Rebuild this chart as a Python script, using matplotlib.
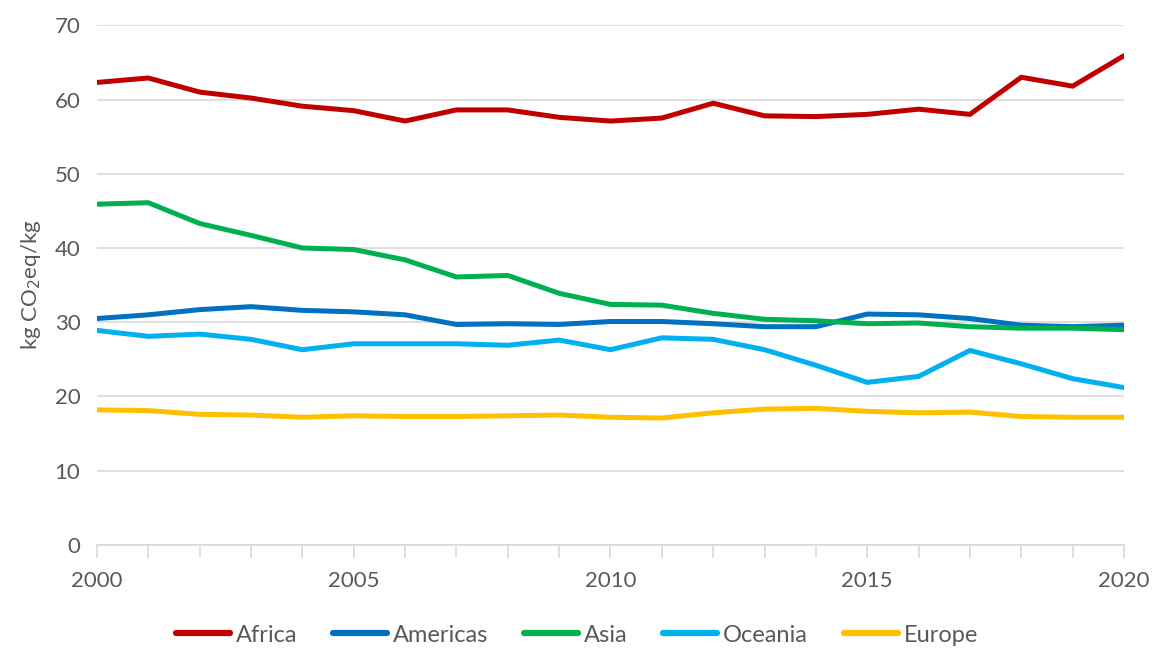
import matplotlib
matplotlib.use("Agg")
import matplotlib.pyplot as plt
from matplotlib.ticker import MultipleLocator

years = list(range(2000, 2021))
africa = [62.3, 62.9, 61.0, 60.2, 59.1, 58.5, 57.1, 58.6, 58.6, 57.6, 57.1,
          57.5, 59.5, 57.8, 57.7, 58.0, 58.7, 58.0, 63.0, 61.8, 65.9]
americas = [30.5, 31.0, 31.7, 32.1, 31.6, 31.4, 31.0, 29.7, 29.8, 29.7, 30.1,
            30.1, 29.8, 29.4, 29.4, 31.1, 31.0, 30.5, 29.6, 29.4, 29.6]
asia = [45.9, 46.1, 43.3, 41.7, 40.0, 39.8, 38.4, 36.1, 36.3, 33.9, 32.4,
        32.3, 31.2, 30.4, 30.2, 29.8, 29.9, 29.4, 29.2, 29.2, 29.0]
oceania = [28.9, 28.1, 28.4, 27.7, 26.3, 27.1, 27.1, 27.1, 26.9, 27.6, 26.3,
           27.9, 27.7, 26.3, 24.2, 21.9, 22.7, 26.2, 24.4, 22.4, 21.2]
europe = [18.2, 18.1, 17.6, 17.5, 17.2, 17.4, 17.3, 17.3, 17.4, 17.5, 17.2,
          17.1, 17.8, 18.3, 18.4, 18.0, 17.8, 17.9, 17.3, 17.2, 17.2]

series = [("Africa", africa, "#C00000"),
          ("Americas", americas, "#0070C0"),
          ("Asia", asia, "#00B050"),
          ("Oceania", oceania, "#00B0F0"),
          ("Europe", europe, "#FFC000")]

plt.rcParams['font.family'] = ['Lato', 'DejaVu Sans']
txt = "#595959"

fig = plt.figure(figsize=(11.54, 6.48), dpi=100)
ax = fig.add_axes([0.084, 0.159, 0.890, 0.802])

for name, vals, col in series:
    ax.plot(years, vals, color=col, lw=3.6, label=name, solid_capstyle='round')

ax.set_xlim(2000, 2020)
ax.set_ylim(0, 70)
ax.yaxis.set_major_locator(MultipleLocator(10))
ax.xaxis.set_major_locator(MultipleLocator(5))
ax.xaxis.set_minor_locator(MultipleLocator(1))
ax.grid(axis='y', color='#d9d9d9', lw=1.2)
ax.set_axisbelow(True)

for s in ['top', 'right', 'left']:
    ax.spines[s].set_visible(False)
ax.spines['bottom'].set_color('#d9d9d9')
ax.spines['bottom'].set_linewidth(1.2)

ax.tick_params(axis='y', length=0, labelsize=16, labelcolor=txt, pad=12)
ax.tick_params(axis='x', which='both', direction='out', length=9, color='#d9d9d9',
               width=1.2, labelsize=16, labelcolor=txt, pad=10)

ax.set_ylabel("kg CO$_2$eq/kg", fontsize=16, color=txt, labelpad=8)

leg = fig.legend(*ax.get_legend_handles_labels(), loc='center',
                 bbox_to_anchor=(0.5, 0.02), ncol=5, frameon=False,
                 fontsize=17, labelcolor=txt, handlelength=2.3, handletextpad=0.25,
                 columnspacing=1.5)
for h in leg.get_lines():
    h.set_linewidth(4.5)

fig.savefig("out.png", dpi=100)
